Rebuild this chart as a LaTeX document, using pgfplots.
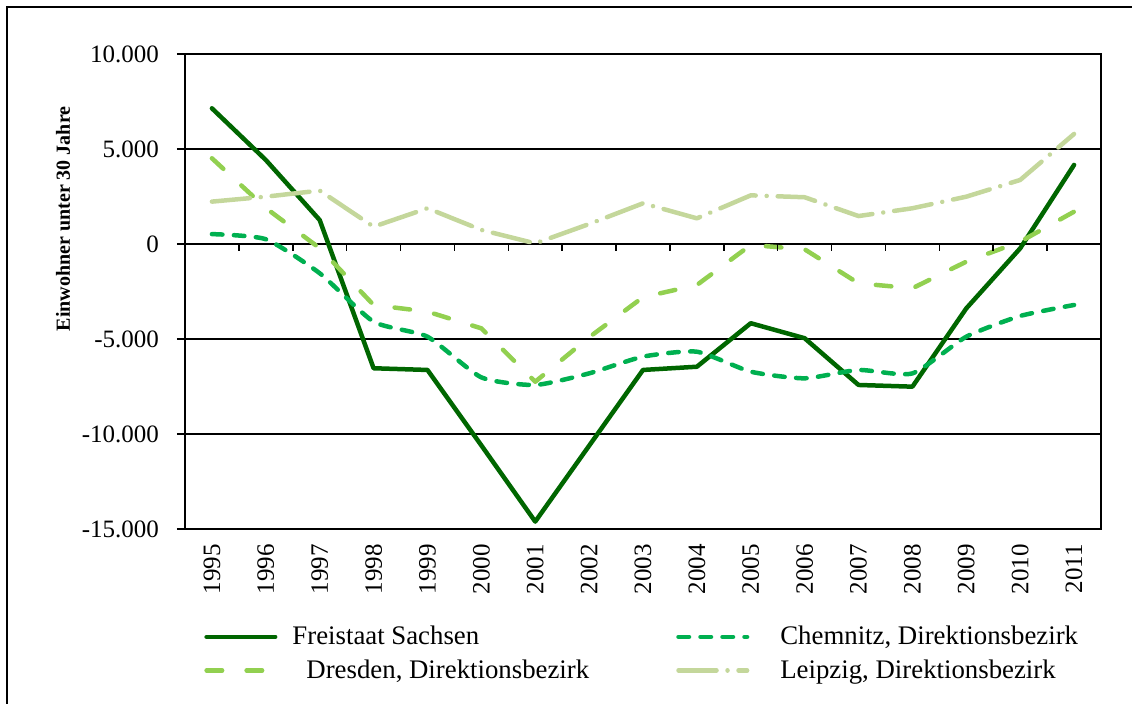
\documentclass[border=0pt]{standalone}
\usepackage{fontspec}
\setmainfont{Liberation Serif}
\usepackage{pgfplots}
\pgfplotsset{compat=1.18}
\definecolor{cSachsen}{RGB}{0,102,0}
\definecolor{cChemnitz}{RGB}{0,176,80}
\definecolor{cDresden}{RGB}{146,208,80}
\definecolor{cLeipzig}{RGB}{196,215,155}
\newcommand{\lf}{\fontsize{12.5}{15}\selectfont}
\newcommand{\legf}{\fontsize{13.4}{16}\selectfont}
\pgfplotsset{mylegimg/.style={legend image code/.code={\draw[##1] (1.1pt,0pt) -- (35.4pt,0pt);}}}
\begin{document}
\begin{tikzpicture}
\begin{axis}[
  name=ax, at={(0,0)}, anchor=south west,
  scale only axis, width=458pt, height=237.5pt,
  xmin=-0.5, xmax=16.5, ymin=-15000, ymax=10000,
  scaled y ticks=false,
  xtick={0,1,2,3,4,5,6,7,8,9,10,11,12,13,14,15,16},
  xticklabels={1995,1996,1997,1998,1999,2000,2001,2002,2003,2004,2005,2006,2007,2008,2009,2010,2011},
  x tick label style={rotate=90, anchor=east, font=\lf},
  major x tick style={draw=none},
  ytick={-15000,-10000,-5000,0,5000,10000},
  yticklabels={-15.000,-10.000,-5.000,0,5.000,10.000},
  y tick label style={font=\lf, xshift=-5.5pt},
  ytick pos=left,
  tick align=outside,
  major tick length=4pt,
  ymajorgrids,
  grid style={black, line width=0.75pt},
  axis line style={black, line width=0.75pt},
  tick style={black, line width=0.75pt},
  ylabel={Einwohner unter 30 Jahre},
  ylabel style={font=\bfseries\fontsize{10}{12}\selectfont, at={(axis description cs:-0.133,0.653)}, anchor=center},
  legend columns=2,
  legend cell align=left,
  legend style={draw=none, fill=none, at={(axis description cs:0.0207,-0.195)}, anchor=north west,
    font=\legf, inner sep=0pt, row sep=2pt,
    /tikz/every even column/.append style={column sep=41.5pt}},
  mylegimg,
  every axis plot/.append style={line join=round, line cap=round},
]
\addplot[cSachsen, line width=2.25pt] table {
x y
0 7140
1 4420
2 1260
3 -6540
4 -6630
5 -10600
6 -14610
7 -10620
8 -6630
9 -6460
10 -4170
11 -4960
12 -7420
13 -7510
14 -3390
15 -230
16 4160
};
\addlegendentry{\hspace{5.5pt}Freistaat Sachsen}
\addplot[cChemnitz, line width=2.25pt, dash pattern=on 5.25pt off 5.75pt, smooth, tension=0.35] table {
x y
0 520
1 250
2 -1540
3 -4090
4 -4880
5 -7020
6 -7420
7 -6810
8 -5930
9 -5670
10 -6720
11 -7070
12 -6630
13 -6810
14 -4880
15 -3790
16 -3210
};
\addlegendentry{\hspace{13.5pt}Chemnitz, Direktionsbezirk}
\addplot[cDresden, line width=2.25pt, dash pattern=on 7.75pt off 12.25pt] table {
x y
0 4510
1 1890
2 -220
3 -3210
4 -3560
5 -4440
6 -7250
7 -4910
8 -2800
9 -2160
10 -50
11 -280
12 -2070
13 -2330
14 -930
15 120
16 1700
};
\addlegendentry{\hspace{12.5pt}Dresden, Direktionsbezirk}
\addplot[cLeipzig, line width=2.25pt, dash pattern=on 19pt off 5.5pt on 0.01pt off 5.5pt] table {
x y
0 2230
1 2490
2 2810
3 910
4 1880
5 740
6 30
7 1050
8 2140
9 1350
10 2560
11 2460
12 1470
13 1880
14 2490
15 3370
16 5790
};
\addlegendentry{\hspace{13.5pt}Leipzig, Direktionsbezirk}
\pgfplotsinvokeforeach{0.5,1.5,2.5,3.5,4.5,5.5,6.5,7.5,8.5,9.5,10.5,11.5,12.5,13.5,14.5,15.5}{
  \draw[black, line width=0.75pt] (axis cs:#1,0) -- (axis cs:#1,-380);
}
\end{axis}
\draw[black, line width=0.75pt] ([shift={(-89pt,-120pt)}]ax.south west) -- ([shift={(-89pt,261pt)}]ax.south west) -- ([shift={(520pt,261pt)}]ax.south west);
\pgfresetboundingbox
\path[use as bounding box] ([shift={(-92.5pt,-87.5pt)}]ax.south west) rectangle ([shift={(473.5pt,264.5pt)}]ax.south west);
\end{tikzpicture}
\end{document}
